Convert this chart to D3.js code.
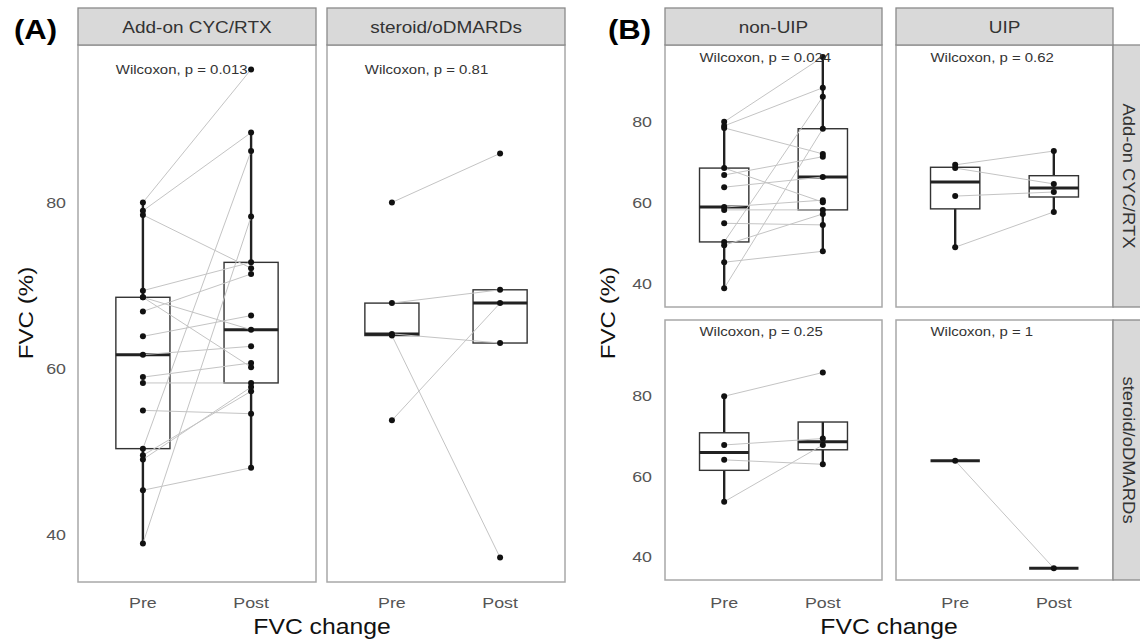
<!DOCTYPE html>
<meta charset="utf-8">
<head>
<title>FVC change</title>
<script src="https://cdn.jsdelivr.net/npm/d3@7"></script>
<style>
  body { margin: 0; background: #fff; }
  text { font-family: "Liberation Sans", Arial, sans-serif; }
</style>
</head>
<body>
<script>

// one entry per patient
var treatment = [
  "Add-on CYC/RTX", "Add-on CYC/RTX", "Add-on CYC/RTX", "Add-on CYC/RTX", "Add-on CYC/RTX",
  "Add-on CYC/RTX", "Add-on CYC/RTX", "Add-on CYC/RTX", "Add-on CYC/RTX", "Add-on CYC/RTX",
  "Add-on CYC/RTX", "Add-on CYC/RTX", "Add-on CYC/RTX",
  "Add-on CYC/RTX", "Add-on CYC/RTX", "Add-on CYC/RTX", "Add-on CYC/RTX",
  "steroid/oDMARDs", "steroid/oDMARDs", "steroid/oDMARDs", "steroid/oDMARDs",
  "steroid/oDMARDs"];
var pattern = [
  "non-UIP", "non-UIP", "non-UIP", "non-UIP", "non-UIP", "non-UIP", "non-UIP",
  "non-UIP", "non-UIP", "non-UIP", "non-UIP", "non-UIP", "non-UIP",
  "UIP", "UIP", "UIP", "UIP",
  "non-UIP", "non-UIP", "non-UIP", "non-UIP",
  "UIP"];
var fvcPre = [80.0, 79.0, 78.5, 68.6, 66.9, 63.9, 59.0, 58.3, 55.0, 50.4, 49.6, 45.4, 39.0,
  69.4, 68.6, 61.7, 49.1,
  80.0, 67.9, 64.2, 53.8,
  64.0];
var fvcPost = [96.0, 88.4, 72.1, 60.2, 71.4, 66.4, 60.7, 58.3, 54.6, 86.2, 57.3, 48.1, 78.3,
  72.8, 64.7, 62.7, 57.8,
  85.9, 69.5, 63.1, 67.9,
  37.3];

var phases = ["Pre", "Post"];
var treatments = ["Add-on CYC/RTX", "steroid/oDMARDs"];
var patterns = ["non-UIP", "UIP"];
var yTicks = [40, 60, 80];
var pTreatment = ["0.013", "0.81"];
var pPattern = [["0.024", "0.62"], ["0.25", "1"]];

var width = 1140, height = 641;
var SX = 1.15; // the source image is a bit wider than tall

var svg = d3.select("body").append("svg")
  .attr("width", width)
  .attr("height", height);

var patients = fvcPre.map(function (d, i) {
  return { treatment: treatment[i], pattern: pattern[i], pre: fvcPre[i], post: fvcPost[i] };
});

// shared y domain, ggplot style 5% expansion
var ext = d3.extent(fvcPre.concat(fvcPost));
var pad = (ext[1] - ext[0]) * 0.05;
var yDomain = [ext[0] - pad, ext[1] + pad];

function addText(g, txt, x, y, size, opts) {
  opts = opts || {};
  var t = g.append("text")
    .attr("transform", "translate(" + x + "," + y + ")" + (opts.rotate ? " rotate(" + opts.rotate + ")" : "") + " scale(" + SX + ",1)")
    .attr("font-size", size)
    .attr("fill", opts.fill || "#1a1a1a")
    .attr("text-anchor", opts.anchor || "middle")
    .attr("dominant-baseline", opts.baseline || "central")
    .text(txt);
  if (opts.bold) t.attr("font-weight", "bold");
  return t;
}

function drawPanel(px, py, pw, ph, rows, pLabel) {
  var y = d3.scaleLinear().domain(yDomain).range([py + ph, py]);
  var x = d3.scalePoint().domain(phases).range([px, px + pw]).padding(0.6);
  var bw = x.step() * 0.5;
  var g = svg.append("g");

  g.append("rect")
    .attr("x", px).attr("y", py).attr("width", pw).attr("height", ph)
    .attr("fill", "white").attr("stroke", "#a8a8a8").attr("stroke-width", 1.5);

  phases.forEach(function (phase) {
    var vals = rows.map(function (d) { return phase == "Pre" ? d.pre : d.post; }).sort(d3.ascending);
    var q1 = d3.quantile(vals, 0.25), md = d3.quantile(vals, 0.5), q3 = d3.quantile(vals, 0.75);
    var iqr = q3 - q1;
    var lo = d3.min(vals.filter(function (v) { return v >= q1 - 1.5 * iqr; }));
    var hi = d3.max(vals.filter(function (v) { return v <= q3 + 1.5 * iqr; }));
    var cx = x(phase);
    g.append("line").attr("x1", cx).attr("x2", cx).attr("y1", y(hi)).attr("y2", y(q3))
      .attr("stroke", "#222").attr("stroke-width", 2.4);
    g.append("line").attr("x1", cx).attr("x2", cx).attr("y1", y(q1)).attr("y2", y(lo))
      .attr("stroke", "#222").attr("stroke-width", 2.4);
    g.append("rect")
      .attr("x", cx - bw / 2).attr("y", y(q3)).attr("width", bw).attr("height", y(q1) - y(q3))
      .attr("fill", "none").attr("stroke", "#333").attr("stroke-width", 1.4);
    g.append("line").attr("x1", cx - bw / 2).attr("x2", cx + bw / 2).attr("y1", y(md)).attr("y2", y(md))
      .attr("stroke", "#222").attr("stroke-width", 3);
  });

  g.selectAll(".pair")
    .data(rows)
    .enter().append("line")
    .attr("x1", x("Pre")).attr("x2", x("Post"))
    .attr("y1", function (d) { return y(d.pre); })
    .attr("y2", function (d) { return y(d.post); })
    .attr("stroke", "#c4c4c4").attr("stroke-width", 1);

  phases.forEach(function (phase) {
    g.selectAll(".pt" + phase)
      .data(rows)
      .enter().append("circle")
      .attr("cx", x(phase))
      .attr("cy", function (d) { return y(phase == "Pre" ? d.pre : d.post); })
      .attr("r", 3)
      .attr("fill", "#111");
  });

  // stat_compare_means style label
  addText(g, "Wilcoxon, p = " + pLabel, x("Pre") - x.step() * 0.25, y(ext[1]), 13,
    { anchor: "start", fill: "#333" });

  return { x: x, y: y };
}

function topStrip(px, pw, label) {
  svg.append("rect")
    .attr("x", px).attr("y", 8).attr("width", pw).attr("height", 37)
    .attr("fill", "#d9d9d9").attr("stroke", "#8a8a8a").attr("stroke-width", 1.3);
  addText(svg, label, px + pw / 2, 27, 16.5, { fill: "#333" });
}

function yAxis(y, xr) {
  yTicks.forEach(function (t) {
    addText(svg, t, xr, y(t), 15.5, { anchor: "end", fill: "#555" });
  });
}

function xLabels(x) {
  phases.forEach(function (p) {
    addText(svg, p, x(p), 603, 15.5, { fill: "#555" });
  });
}

// ---- panel A: faceted by treatment
var aLeft = [78, 327], aW = 238;
treatments.forEach(function (t, i) {
  var rows = patients.filter(function (d) { return d.treatment == t; });
  var sc = drawPanel(aLeft[i], 45, aW, 537, rows, pTreatment[i]);
  topStrip(aLeft[i], aW, t);
  xLabels(sc.x);
  if (i == 0) yAxis(sc.y, 66);
});
addText(svg, "FVC (%)", 26, 313, 21, { rotate: -90, fill: "#111" });
addText(svg, "FVC change", 322, 627, 21.5, { fill: "#111" });
addText(svg, "(A)", 14, 30, 27, { anchor: "start", bold: true, fill: "#000" });

// ---- panel B: treatment rows x pattern columns
var bLeft = [665, 896], bW = 217;
var bTop = [45, 320], bH = [262, 260];
treatments.forEach(function (t, r) {
  patterns.forEach(function (p, c) {
    var rows = patients.filter(function (d) { return d.treatment == t && d.pattern == p; });
    var sc = drawPanel(bLeft[c], bTop[r], bW, bH[r], rows, pPattern[r][c]);
    if (c == 0) yAxis(sc.y, 652);
    if (r == 1) xLabels(sc.x);
  });
  // right strip
  svg.append("rect")
    .attr("x", 1113).attr("y", bTop[r]).attr("width", 30).attr("height", bH[r])
    .attr("fill", "#d9d9d9").attr("stroke", "#8a8a8a").attr("stroke-width", 1.3);
  addText(svg, t, 1129, bTop[r] + bH[r] / 2, 16, { rotate: 90, fill: "#333" });
});
patterns.forEach(function (p, c) { topStrip(bLeft[c], bW, p); });
addText(svg, "FVC (%)", 608, 313, 21, { rotate: -90, fill: "#111" });
addText(svg, "FVC change", 889, 627, 21.5, { fill: "#111" });
addText(svg, "(B)", 608, 30, 27, { anchor: "start", bold: true, fill: "#000" });

</script>
</body>
